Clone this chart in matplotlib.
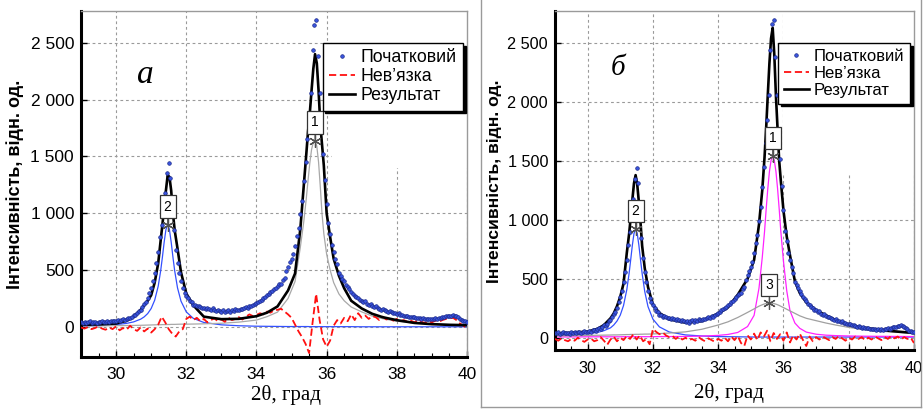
import numpy as np
import matplotlib
matplotlib.use('Agg')
import matplotlib.pyplot as plt
from matplotlib.patches import Rectangle
from matplotlib.lines import Line2D
from matplotlib.ticker import MultipleLocator

plt.rcParams['font.family'] = ['Liberation Sans', 'DejaVu Sans']

# ---------------- data ----------------
# observed pattern, 2theta from 29.00 to 40.00, step 0.05
x_obs = np.linspace(29.0, 40.0, 221)
obs = [
    40, 38, 45, 35, 42, 48, 38, 44, 40, 36,
    46, 42, 50, 40, 45, 52, 44, 48, 55, 50,
    52, 58, 50, 62, 66, 60, 72, 80, 76, 90,
    108, 102, 120, 138, 150, 172, 200, 222, 256, 300,
    345, 400, 470, 560, 660, 790, 900, 1030, 1180, 1350,
    1440, 1310, 1050, 850, 680, 560, 470, 400, 340, 300,
    275, 250, 225, 215, 195, 190, 180, 185, 172, 168,
    165, 160, 170, 158, 150, 162, 148, 140, 150, 138,
    132, 145, 128, 140, 150, 135, 148, 142, 155, 150,
    148, 160, 158, 165, 175, 170, 185, 180, 195, 200,
    210, 220, 232, 240, 255, 265, 280, 290, 305, 315,
    330, 345, 360, 375, 380, 410, 430, 490, 530, 570,
    600, 640, 716, 800, 870, 990, 1110, 1280, 1450, 1650,
    1850, 2060, 2440, 2660, 2700, 2385, 2060, 1750, 1520, 1290,
    1080, 910, 820, 720, 660, 600, 550, 470, 450, 420,
    400, 370, 350, 330, 310, 290, 275, 262, 250, 238,
    232, 218, 225, 205, 195, 200, 185, 175, 180, 168,
    160, 150, 158, 145, 140, 132, 138, 128, 122, 118,
    115, 120, 108, 104, 100, 95, 98, 90, 86, 88,
    85, 80, 82, 78, 72, 75, 70, 68, 72, 66,
    70, 68, 75, 72, 80, 78, 85, 88, 92, 95,
    100, 98, 105, 100, 92, 85, 72, 60, 55, 48,
    45,
]

# x positions of the fitted / component curves
xc = [29.0, 29.5, 30.0, 30.3, 30.5, 30.7, 30.8, 30.9, 31.0, 31.1, 31.2,
      31.27, 31.32, 31.37, 31.42, 31.47, 31.52, 31.57, 31.62, 31.67, 31.75, 31.85,
      32.0, 32.2, 32.5, 33.0, 33.5, 34.0, 34.3, 34.6, 34.9,
      35.1, 35.25, 35.35, 35.42, 35.47, 35.52, 35.57, 35.62, 35.67, 35.72, 35.77, 35.82, 35.87, 35.92,
      36.0, 36.1, 36.2, 36.35, 36.5, 36.7, 37.0, 37.3, 37.6, 38.0, 38.5, 39.0, 39.5, 40.0]

# panel a
fit_a = [18, 22, 30, 55, 88, 150, 190, 230, 279, 390, 560,
         760, 900, 1050, 1200, 1335, 1320, 1200, 1000, 850, 690, 480,
         294, 190, 90, 68, 71, 94, 125, 180, 320,
         470, 860, 1250, 1520, 1720, 1880, 2080, 2270, 2400, 2320, 2080, 1780, 1600, 1420,
         1000, 790, 600, 450, 340, 230, 162, 115, 85, 59, 35, 24, 18, 15]
comp1_a = [8, 9, 11, 12, 13, 14, 15, 16, 17, 18, 19,
           19, 20, 20, 20, 21, 21, 22, 22, 22, 23, 24,
           24, 25, 27, 32, 42, 60, 90, 130, 250,
           400, 700, 930, 1130, 1290, 1440, 1560, 1625, 1640, 1590, 1450, 1230, 990, 820,
           640, 500, 390, 290, 230, 175, 132, 95, 72, 50, 35, 26, 20, 16]
comp2_a = [7, 11, 20, 31, 44, 68, 88, 117, 162, 235, 358,
           493, 614, 746, 856, 900, 856, 746, 614, 493, 344, 226,
           132, 75, 39, 18, 10, 6, 5, 4, 3,
           3, 3, 3, 3, 3, 2, 2, 2, 2, 2, 2, 2, 2, 2,
           2, 2, 2, 2, 2, 2, 1, 1, 1, 1, 1, 1, 1, 1]

# panel b
fit_b = [36, 42, 52, 75, 108, 165, 207, 268, 348, 460, 720,
         880, 1020, 1170, 1310, 1380, 1300, 1150, 980, 780, 590, 430,
         280, 210, 157, 128, 142, 205, 258, 365, 500,
         660, 960, 1250, 1530, 1780, 2060, 2330, 2540, 2630, 2400, 2050, 1770, 1500, 1330,
         1080, 860, 700, 480, 380, 300, 235, 190, 150, 110, 83, 65, 52, 40]
comp1_b = [7, 7, 8, 8, 8, 8, 8, 8, 8, 9, 9,
           9, 9, 9, 9, 9, 9, 9, 9, 9, 9, 9,
           9, 10, 10, 11, 14, 20, 28, 45, 95,
           190, 420, 680, 900, 1090, 1265, 1410, 1505, 1540, 1505, 1410, 1265, 1090, 900,
           650, 400, 230, 125, 80, 48, 30, 22, 18, 15, 13, 12, 11, 10]
comp2_b = [25, 28, 35, 45, 60, 84, 108, 142, 192, 274, 408,
           545, 663, 785, 884, 920, 884, 785, 663, 545, 392, 264,
           158, 92, 49, 24, 15, 10, 9, 8, 7,
           6, 6, 6, 6, 6, 6, 6, 6, 6, 6, 6, 6, 6, 6,
           6, 6, 6, 6, 6, 6, 6, 6, 6, 6, 6, 6, 6, 6]
comp3_b = [16, 17, 20, 21, 22, 23, 24, 24, 25, 26, 27,
           27, 28, 28, 28, 29, 29, 29, 30, 30, 31, 31,
           32, 35, 40, 50, 72, 108, 135, 172, 215,
           245, 268, 280, 287, 291, 294, 295, 294, 292, 289, 285, 280, 274, 267,
           256, 242, 228, 207, 186, 165, 145, 125, 108, 88, 68, 55, 46, 40]

# residuals, step 0.1
x_res = np.linspace(29.0, 40.0, 111)
res_a = [-5, -15, 0, -20, -10, 5, -15, -25, -5, -20,
         5, -30, -10, -25, 10, -20, -35, -5, -40, -15,
         -50, -20, 20, 90, 40, -20, -60, -85, -40, -20,
         70, 90, 60, 80, 50, 70, 40, 60, 75, 50,
         65, 45, 80, 60, 70, 85, 65, 90, 110, 95,
         105, 120, 110, 135, 125, 145, 150, 160, 135, 110,
         80, 20, -40, -90, -150, -230, 40, 290, 60, -110,
         -175, -120, 10, 60, 30, 80, 50, 110, 60, 120,
         80, 100, 70, 95, 85, 60, 90, 65, 75, 55,
         70, 50, 60, 45, 55, 40, 60, 45, 35, 50,
         40, 55, 45, 60, 70, 75, 80, 60, 30, 10,
         -15]
res_b = [-10, -25, -5, -20, -30, -10, -25, 0, -20, -35,
         -15, -5, -30, -20, 5, -25, -60, -15, 10, -30,
         0, -20, 15, -10, 30, -15, 20, -30, -10, -55,
         75, 50, 30, 45, 20, 5, 15, -10, 10, -15,
         0, -20, -10, -25, 5, -15, -30, -5, -20, -35,
         -10, -25, 0, -30, 10, -20, 15, -45, -70, 20,
         -15, 35, -20, 45, 10, 60, -30, 40, -10, 30,
         -25, 45, -40, 20, -15, 35, -20, -70, 10, -30,
         5, -15, 10, -5, -20, 5, -10, 15, -5, -25,
         0, -15, 10, -10, 5, -20, 0, -15, 10, -5,
         -20, 5, -10, 15, -5, 10, -15, 5, -10, 0,
         -45]

labels_legend = ['Початковий', 'Нев\u2019язка', 'Результат']
xticks = [30, 32, 34, 36, 38, 40]
yticks = [0, 500, 1000, 1500, 2000, 2500]
ytick_labels = ['0', '500', '1 000', '1 500', '2 000', '2 500']
ylabel = 'Інтенсивність, відн. од.'
xlabel = '2\u03b8, град'

W, H = 924, 411
fig = plt.figure(figsize=(W / 100, H / 100), dpi=100)

def fx(px):
    return px / W

def fy(py):
    return 1 - py / H

axA = fig.add_axes([fx(81), fy(357), (467 - 81) / W, (357 - 11) / H])
axB = fig.add_axes([fx(555), fy(350), (914 - 555) / W, (350 - 11) / H])

# outer frame of panel b
for xs, ys in [([481, 481], [0, 407]), ([481, 921], [407, 407]), ([921, 921], [0, 407])]:
    fig.add_artist(Line2D([fx(v) for v in xs], [fy(v) for v in ys], color='#9a9a9a', lw=1))


def style(ax, ylim, fs_tick, xpad, mask_x0):
    ax.set_xlim(29, 40)
    ax.set_ylim(*ylim)
    ax.set_xticks(xticks)
    ax.set_xticklabels([str(t) for t in xticks])
    ax.set_yticks(yticks)
    ax.set_yticklabels(ytick_labels)
    ax.xaxis.set_minor_locator(MultipleLocator(0.5))
    ax.tick_params(axis='both', which='major', direction='in', length=4, width=1,
                   labelsize=fs_tick, colors='black')
    ax.tick_params(axis='x', which='major', pad=xpad)
    ax.tick_params(axis='y', which='major', pad=5)
    ax.tick_params(axis='x', which='minor', direction='in', length=3, width=0.8)
    ax.grid(True, which='major', color='#9a9a9a', linestyle=(0, (2.5, 2.5)), linewidth=0.8)
    ax.set_axisbelow(True)
    for s in ['left', 'bottom']:
        ax.spines[s].set_color('black')
        ax.spines[s].set_linewidth(2.2)
    for s in ['top', 'right']:
        ax.spines[s].set_color('#9a9a9a')
        ax.spines[s].set_linewidth(1)
    ax.add_patch(Rectangle((mask_x0, 1400), 40 - mask_x0, 2000, facecolor='white',
                           edgecolor='none', zorder=0.9))


def peaks(ax, comps, ids):
    for comp, lab in zip(comps, ids):
        i = int(np.argmax(comp))
        px, py = xc[i], comp[i]
        ax.plot([px], [py], marker=(6, 2, 0), ms=9, color='#505050', mew=0.9, zorder=6)
        ax.annotate(lab, xy=(px, py), xytext=(0, 13), textcoords='offset points',
                    ha='center', va='center', fontsize=10, zorder=7,
                    bbox=dict(boxstyle='square,pad=0.3', fc='white', ec='#333333', lw=0.9),
                    arrowprops=dict(arrowstyle='-', color='#505050', lw=0.8,
                                    shrinkA=0, shrinkB=0))


def draw(ax, fit, comps, comp_colors, res, fs_leg, anchor):
    hd, = ax.plot(x_obs, obs, 'o', ms=2.6, mfc='#3a55e0', mec='#1c2a8a', mew=0.5, zorder=4)
    hr, = ax.plot(x_res, res, color='#ff1010', lw=1.3, ls=(0, (4, 2)), zorder=3)
    for comp, c in zip(comps, comp_colors):
        ax.plot(xc, comp, color=c, lw=0.9, zorder=2.5)
    hf, = ax.plot(xc, fit, color='black', lw=1.9, zorder=3.5)
    leg = ax.legend([hd, hr, hf], labels_legend, loc='upper right', bbox_to_anchor=anchor,
                    frameon=True, fancybox=False, edgecolor='black', framealpha=1,
                    shadow={'color': 'black', 'alpha': 1}, borderpad=0.35,
                    handlelength=1.5, handletextpad=0.3, labelspacing=0.12,
                    fontsize=fs_leg, borderaxespad=0)
    leg.get_frame().set_linewidth(1.0)
    leg.set_zorder(10)


# panel a
style(axA, (-265, 2780), 12.5, 7, 36.16)
draw(axA, fit_a, [comp2_a, comp1_a], ['#3350ff', '#a8a8a8'], res_a, 12.8, (0.99, 0.9075))
peaks(axA, [comp2_a, comp1_a], ['2', '1'])

# panel b
style(axB, (-104, 2773), 11.7, 8, 36.0)
draw(axB, fit_b, [comp2_b, comp1_b, comp3_b], ['#3350ff', '#ff22ff', '#a0a0a0'], res_b, 12.0,
     (0.989, 0.906))
peaks(axB, [comp2_b, comp1_b, comp3_b], ['2', '1', '3'])

# axis labels and panel letters
fig.text(fx(15), fy(184), ylabel, rotation=90, ha='center', va='center',
         fontsize=13, fontweight='bold')
fig.text(fx(495), fy(181), ylabel, rotation=90, ha='center', va='center',
         fontsize=12.6, fontweight='bold')
fig.text(fx(286), fy(395), xlabel, ha='center', va='center', fontsize=15,
         family=['Liberation Serif', 'DejaVu Serif'])
fig.text(fx(729), fy(393), xlabel, ha='center', va='center', fontsize=15,
         family=['Liberation Serif', 'DejaVu Serif'])
fig.text(fx(145), fy(75), 'а', ha='center', va='center', fontsize=24, style='italic',
         family=['Liberation Serif', 'DejaVu Serif'])
fig.text(fx(618), fy(68), 'б', ha='center', va='center', fontsize=21, style='italic',
         family=['Liberation Serif', 'DejaVu Serif'])

fig.savefig('out.png', dpi=100)
